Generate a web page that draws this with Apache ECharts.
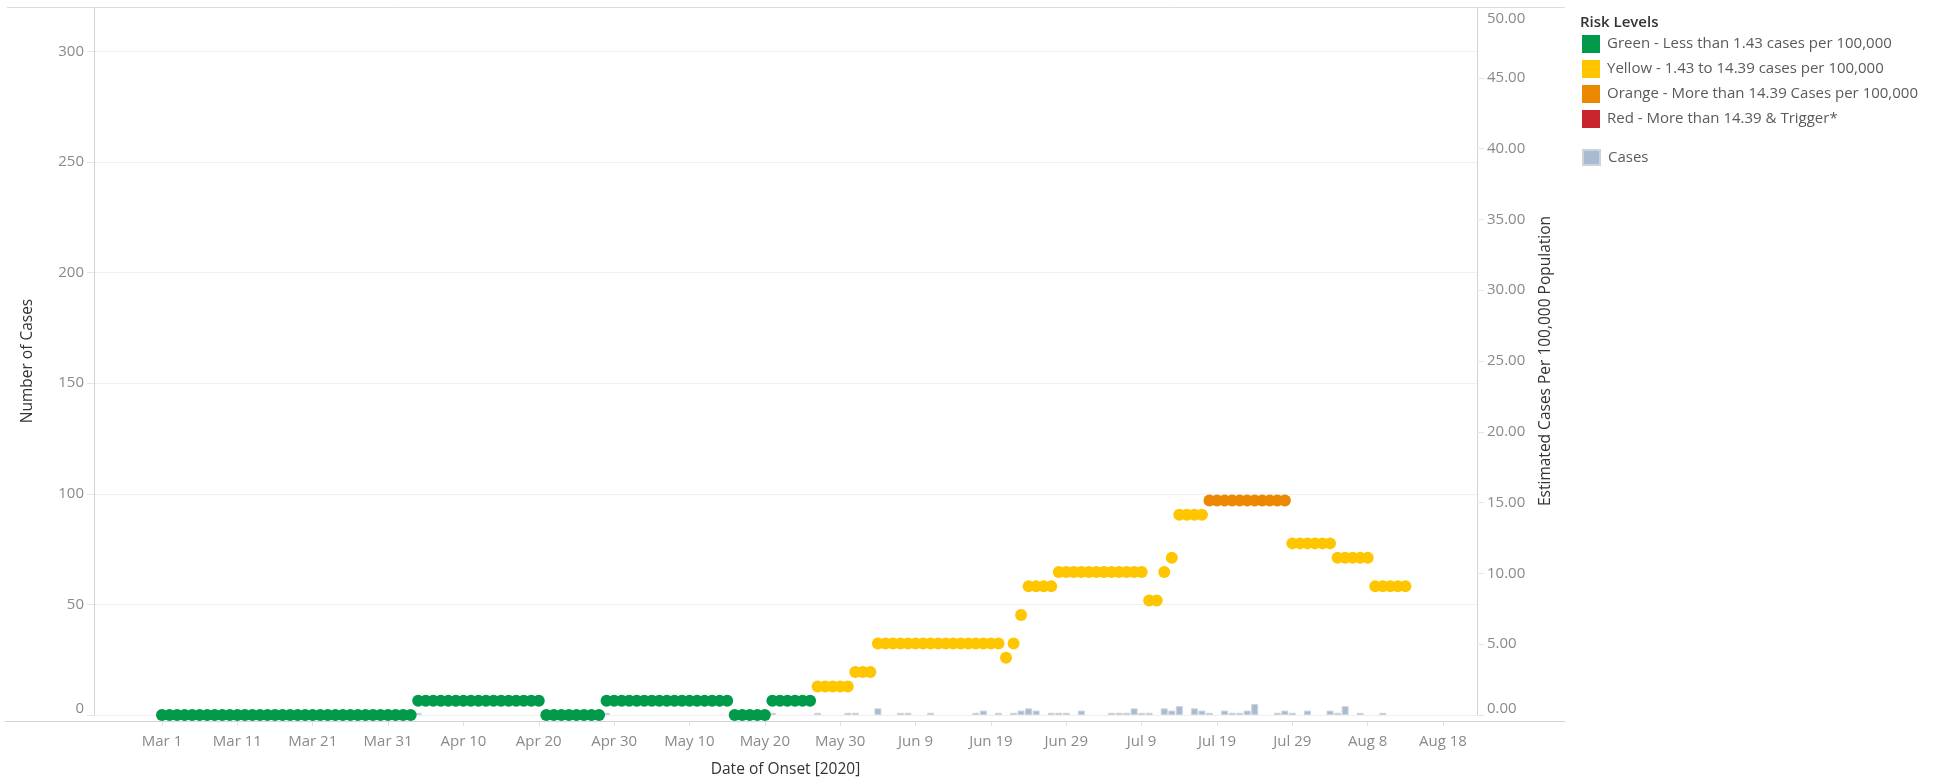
<!DOCTYPE html>
<html>
<head>
<meta charset="utf-8">
<script src="https://cdn.jsdelivr.net/npm/echarts@6/dist/echarts.min.js"></script>
<style>
html,body{margin:0;padding:0;background:#fff;}
#chart{width:1944px;height:783px;}
</style>
</head>
<body>
<div id="chart"></div>
<script>
// x index: day 0 = Mar 1, 2020
const tickLabels = ['Mar 1','Mar 11','Mar 21','Mar 31','Apr 10','Apr 20','Apr 30','May 10','May 20','May 30','Jun 9','Jun 19','Jun 29','Jul 9','Jul 19','Jul 29','Aug 8','Aug 18'];

// Estimated cases per 100,000 (one value per day from Mar 1)
const rate = [
  0,0,0,0,0,0,0,0,0,0,
  0,0,0,0,0,0,0,0,0,0,
  0,0,0,0,0,0,0,0,0,0,
  0,0,0,0,1.01,1.01,1.01,1.01,1.01,1.01,
  1.01,1.01,1.01,1.01,1.01,1.01,1.01,1.01,1.01,1.01,
  1.01,0,0,0,0,0,0,0,0,1.01,
  1.01,1.01,1.01,1.01,1.01,1.01,1.01,1.01,1.01,1.01,
  1.01,1.01,1.01,1.01,1.01,1.01,0,0,0,0,
  0,1.01,1.01,1.01,1.01,1.01,1.01,2.02,2.02,2.02,
  2.02,2.02,3.03,3.03,3.03,5.05,5.05,5.05,5.05,5.05,
  5.05,5.05,5.05,5.05,5.05,5.05,5.05,5.05,5.05,5.05,
  5.05,5.05,4.04,5.05,7.07,9.09,9.09,9.09,9.09,10.1,
  10.1,10.1,10.1,10.1,10.1,10.1,10.1,10.1,10.1,10.1,
  10.1,8.08,8.08,10.1,11.11,14.14,14.14,14.14,14.14,15.15,
  15.15,15.15,15.15,15.15,15.15,15.15,15.15,15.15,15.15,15.15,
  12.12,12.12,12.12,12.12,12.12,12.12,11.11,11.11,11.11,11.11,
  11.11,9.09,9.09,9.09,9.09,9.09
];

// Daily cases (day index, count)
const caseDays   = [34,59,81,87,91,92,95,98,99,102,108,109,111,113,114,115,116,118,119,120,122,126,127,128,129,130,131,133,134,135,137,138,139,141,142,143,144,145,148,149,150,152,155,156,157,159,162];
const caseCounts = [ 1, 1, 1, 1, 1, 1, 3, 1, 1,  1,  1,  2,  1,  1,  2,  3,  2,  1,  1,  1,  2,  1,  1,  1,  3,  1,  1,  3,  2,  4,  3,  2,  1,  2,  1,  1,  2,  5,  1,  2,  1,  2,  2,  1,  4,  1,  1];

const levelNames = [
  'Green - Less than 1.43 cases per 100,000',
  'Yellow - 1.43 to 14.39 cases per 100,000',
  'Orange - More than 14.39 Cases per 100,000',
  'Red - More than 14.39 & Trigger*'
];
const levelColors = ['#009a4a', '#ffc600', '#eb8700', '#c9252f'];

function levelOf(v) { return v < 1.43 ? 0 : (v <= 14.39 ? 1 : 2); }
const levelData = [[], [], [], []];
rate.forEach((v, d) => levelData[levelOf(v)].push([d, v]));

const caseData = caseDays.map((d, i) => [d, caseCounts[i]]);

const FONT = '"Open Sans", sans-serif';
const tickColor = '#8a8a8a';
const lineColor = '#d3d3d3';

const chart = echarts.init(document.getElementById('chart'));
const option = {
  animation: false,
  textStyle: { fontFamily: FONT },
  title: {
    text: 'Risk Levels', left: 1580, top: 15, padding: 0,
    textStyle: { fontFamily: FONT, fontSize: 15, fontWeight: 600, color: '#333' }
  },
  legend: [
    {
      data: levelNames, orient: 'vertical', left: 1582, top: 35, padding: 0,
      itemWidth: 18, itemHeight: 18, itemGap: 7, icon: 'rect', selectedMode: false,
      textStyle: { fontFamily: FONT, fontSize: 15, color: '#5a5a5a', padding: [0, 0, 0, 2] }
    },
    {
      data: ['Cases'], orient: 'vertical', left: 1582, top: 149, padding: 0,
      itemWidth: 17, itemHeight: 15, icon: 'rect', selectedMode: false,
      textStyle: { fontFamily: FONT, fontSize: 15, color: '#5a5a5a', padding: [0, 0, 0, 3] }
    }
  ],
  grid: [
    { left: 94, right: 467, top: 7, bottom: 62 },
    { left: 162, right: 501, top: 7, bottom: 62 }
  ],
  xAxis: [
    {
      type: 'value', gridIndex: 0, min: -9.02, max: 174.5,
      axisLine: { show: false }, axisTick: { show: false }, axisLabel: { show: false }, splitLine: { show: false },
      name: 'Date of Onset [2020]', nameLocation: 'middle', nameGap: 47,
      nameTextStyle: { fontFamily: FONT, fontSize: 15.5, color: '#333' }
    },
    {
      type: 'value', gridIndex: 1, min: 0, max: 170, interval: 10, z: 6,
      axisLine: { show: false },
      axisTick: { show: true, length: 5, lineStyle: { color: '#e2e2e2' } },
      splitLine: { show: false },
      axisLabel: {
        margin: 13, fontFamily: FONT, fontSize: 15, color: tickColor,
        formatter: v => (v % 10 === 0 && tickLabels[v / 10] !== undefined) ? tickLabels[v / 10] : ''
      }
    }
  ],
  yAxis: [
    {
      type: 'value', gridIndex: 0, min: 0, max: 320, interval: 50, position: 'left',
      axisLine: { show: true, onZero: false, lineStyle: { color: lineColor, width: 1 } },
      axisTick: { show: true, length: 7, lineStyle: { color: '#e6e6e6' } },
      splitLine: { show: true, lineStyle: { color: '#efefef', width: 1 } },
      axisLabel: {
        margin: 10, fontFamily: FONT, fontSize: 15, color: tickColor,
        formatter: v => v === 0 ? '{lo|0}' : (v > 300 ? '' : String(v)),
        rich: { lo: { fontFamily: FONT, fontSize: 15, color: tickColor, padding: [0, 0, 13, 0] } }
      },
      name: 'Number of Cases', nameLocation: 'middle', nameRotate: 90, nameGap: 58,
      nameTextStyle: { fontFamily: FONT, fontSize: 15.5, color: '#333' }
    },
    {
      type: 'value', gridIndex: 0, min: 0, max: 50, interval: 5, position: 'right',
      axisLine: { show: true, onZero: false, lineStyle: { color: lineColor, width: 1 } },
      axisTick: { show: true, length: 7, lineStyle: { color: '#e6e6e6' } },
      splitLine: { show: false },
      axisLabel: {
        margin: 10, fontFamily: FONT, fontSize: 15, color: tickColor,
        formatter: v => v === 0 ? '{lo|0.00}' : (v === 50 ? '{hi|50.00}' : v.toFixed(2)),
        rich: {
          lo: { fontFamily: FONT, fontSize: 15, color: tickColor, padding: [0, 0, 13, 0] },
          hi: { fontFamily: FONT, fontSize: 15, color: tickColor, padding: [24, 0, 0, 0] }
        }
      },
      name: 'Estimated Cases Per 100,000 Population', nameLocation: 'middle', nameRotate: 90, nameGap: 61,
      nameTextStyle: { fontFamily: FONT, fontSize: 15.5, color: '#333' }
    },
    { type: 'value', gridIndex: 1, min: 0, max: 1, show: false }
  ],
  series: [
    {
      name: 'Cases', type: 'bar', xAxisIndex: 0, yAxisIndex: 0, data: caseData,
      barWidth: 7, z: 1,
      itemStyle: { color: '#a8bbd3', borderColor: '#cdd3da', borderWidth: 1 }
    }
  ].concat(levelNames.map((n, i) => ({
    name: n, type: 'scatter', xAxisIndex: 0, yAxisIndex: 1, data: levelData[i],
    symbol: 'circle', symbolSize: 12, clip: false, z: 2,
    itemStyle: { color: levelColors[i], opacity: 1 }
  }))),
  graphic: [
    { type: 'rect', z: 3, shape: { x: 96, y: 722, width: 1379, height: 10 }, style: { fill: '#fff' } },
    { type: 'line', z: 7, shape: { x1: 5, y1: 721.5, x2: 1565, y2: 721.5 }, style: { stroke: lineColor, lineWidth: 1 } },
    { type: 'line', z: 7, shape: { x1: 7, y1: 7.5, x2: 1565, y2: 7.5 }, style: { stroke: '#dcdcdc', lineWidth: 1 } }
  ]
};
chart.setOption(option);
</script>
</body>
</html>
